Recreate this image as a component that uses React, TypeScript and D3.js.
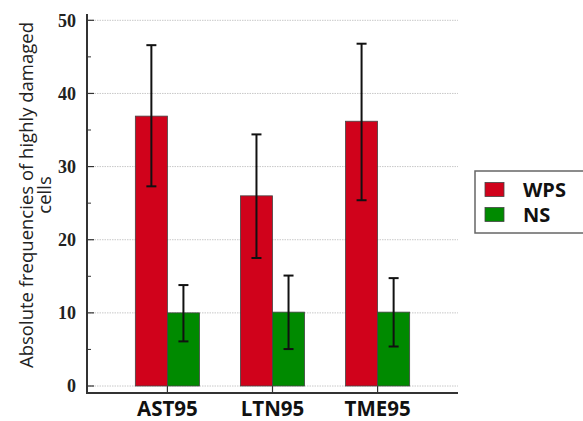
import React from "react";
import * as d3 from "d3";

const categories = ["AST95", "LTN95", "TME95"];
const seriesNames = ["WPS", "NS"];
const wpsValues = [36.9, 26.0, 36.2];
const wpsLow = [27.3, 17.5, 25.4];
const wpsHigh = [46.6, 34.4, 46.8];
const nsValues = [10.0, 10.1, 10.1];
const nsLow = [6.1, 5.05, 5.4];
const nsHigh = [13.8, 15.1, 14.75];
const yTicks = [0, 10, 20, 30, 40, 50];
const yMinorTicks = [5, 15, 25, 35, 45];
const colors = ["#D0021B", "#008A00"];

export default function App() {
  const W = 583, H = 421;
  const left = 87, right = 458, top = 14, bottom = 393;
  const y = d3.scaleLinear().domain([0, 50]).range([386, 20.3]);
  const x0 = d3.scaleBand().domain(categories).range([left, right]).paddingInner(0.39).paddingOuter(0.46);
  const x1 = d3.scaleBand().domain(seriesNames).range([0, x0.bandwidth()]).padding(0);
  const series = [
    { name: "WPS", values: wpsValues, low: wpsLow, high: wpsHigh },
    { name: "NS", values: nsValues, low: nsLow, high: nsHigh },
  ];
  const serif = "'Liberation Serif', 'DejaVu Serif', serif";
  const sans = "'Open Sans', 'Liberation Sans', sans-serif";
  return (
    <svg width={W} height={H} style={{ position: "absolute", left: 0, top: 0, background: "#fff" }}>
      {yTicks.map((t) => (
        <line key={"g" + t} x1={left} x2={right} y1={y(t)} y2={y(t)} stroke="#c8c8c8" strokeWidth={1} strokeDasharray="1.5,1" />
      ))}
      {series.map((s, si) =>
        categories.map((c, ci) => {
          const bx = (x0(c) as number) + (x1(s.name) as number);
          const bw = x1.bandwidth();
          return (
            <rect key={s.name + c} x={bx} y={y(s.values[ci])} width={bw} height={y(0) - y(s.values[ci])} fill={colors[si]} stroke="#444" strokeWidth={0.8} />
          );
        })
      )}
      {series.map((s) =>
        categories.map((c, ci) => {
          const cx = (x0(c) as number) + (x1(s.name) as number) + x1.bandwidth() / 2;
          return (
            <g key={"e" + s.name + c} stroke="#111" strokeWidth={2}>
              <line x1={cx} x2={cx} y1={y(s.low[ci])} y2={y(s.high[ci])} />
              <line x1={cx - 5} x2={cx + 5} y1={y(s.low[ci])} y2={y(s.low[ci])} />
              <line x1={cx - 5} x2={cx + 5} y1={y(s.high[ci])} y2={y(s.high[ci])} />
            </g>
          );
        })
      )}
      <line x1={left} x2={left} y1={top} y2={bottom} stroke="#333" strokeWidth={2} />
      <line x1={left - 1} x2={right} y1={bottom} y2={bottom} stroke="#333" strokeWidth={2} />
      {yTicks.map((t) => (
        <g key={"t" + t}>
          <line x1={left} x2={left + 7} y1={y(t)} y2={y(t)} stroke="#333" strokeWidth={1.2} />
          <text x={76} y={y(t)} dy="0.35em" textAnchor="end" fontFamily={serif} fontWeight="bold" fontSize={18} fill="#222">{t}</text>
        </g>
      ))}
      {yMinorTicks.map((t) => (
        <line key={"m" + t} x1={left} x2={left + 4} y1={y(t)} y2={y(t)} stroke="#333" strokeWidth={1} />
      ))}
      {categories.map((c) => {
        const cx = (x0(c) as number) + x0.bandwidth() / 2;
        return (
          <g key={"x" + c}>
            <line x1={cx} x2={cx} y1={y(0)} y2={bottom} stroke="#333" strokeWidth={1.2} />
            <text x={cx} y={416} textAnchor="middle" fontFamily={sans} fontWeight="bold" fontSize={20.5} fill="#111">{c}</text>
          </g>
        );
      })}
      <g transform="translate(27,195) rotate(-90)">
        <text x={0} y={0} dy="0.35em" textAnchor="middle" fontFamily={sans} fontSize={18.5} fill="#222">Absolute frequencies of highly damaged</text>
        <text x={0} y={18} dy="0.35em" textAnchor="middle" fontFamily={sans} fontSize={18.5} fill="#222">cells</text>
      </g>
      <rect x={475} y={171} width={110} height={62} fill="#fff" stroke="#666" strokeWidth={1.5} />
      {seriesNames.map((n, i) => (
        <g key={"l" + n}>
          <rect x={485} y={182.5 + i * 25} width={19} height={14} fill={colors[i]} stroke="#444" strokeWidth={0.8} />
          <text x={523} y={196.7 + i * 25} fontFamily={sans} fontWeight="bold" fontSize={20} fill="#111">{n}</text>
        </g>
      ))}
    </svg>
  );
}
